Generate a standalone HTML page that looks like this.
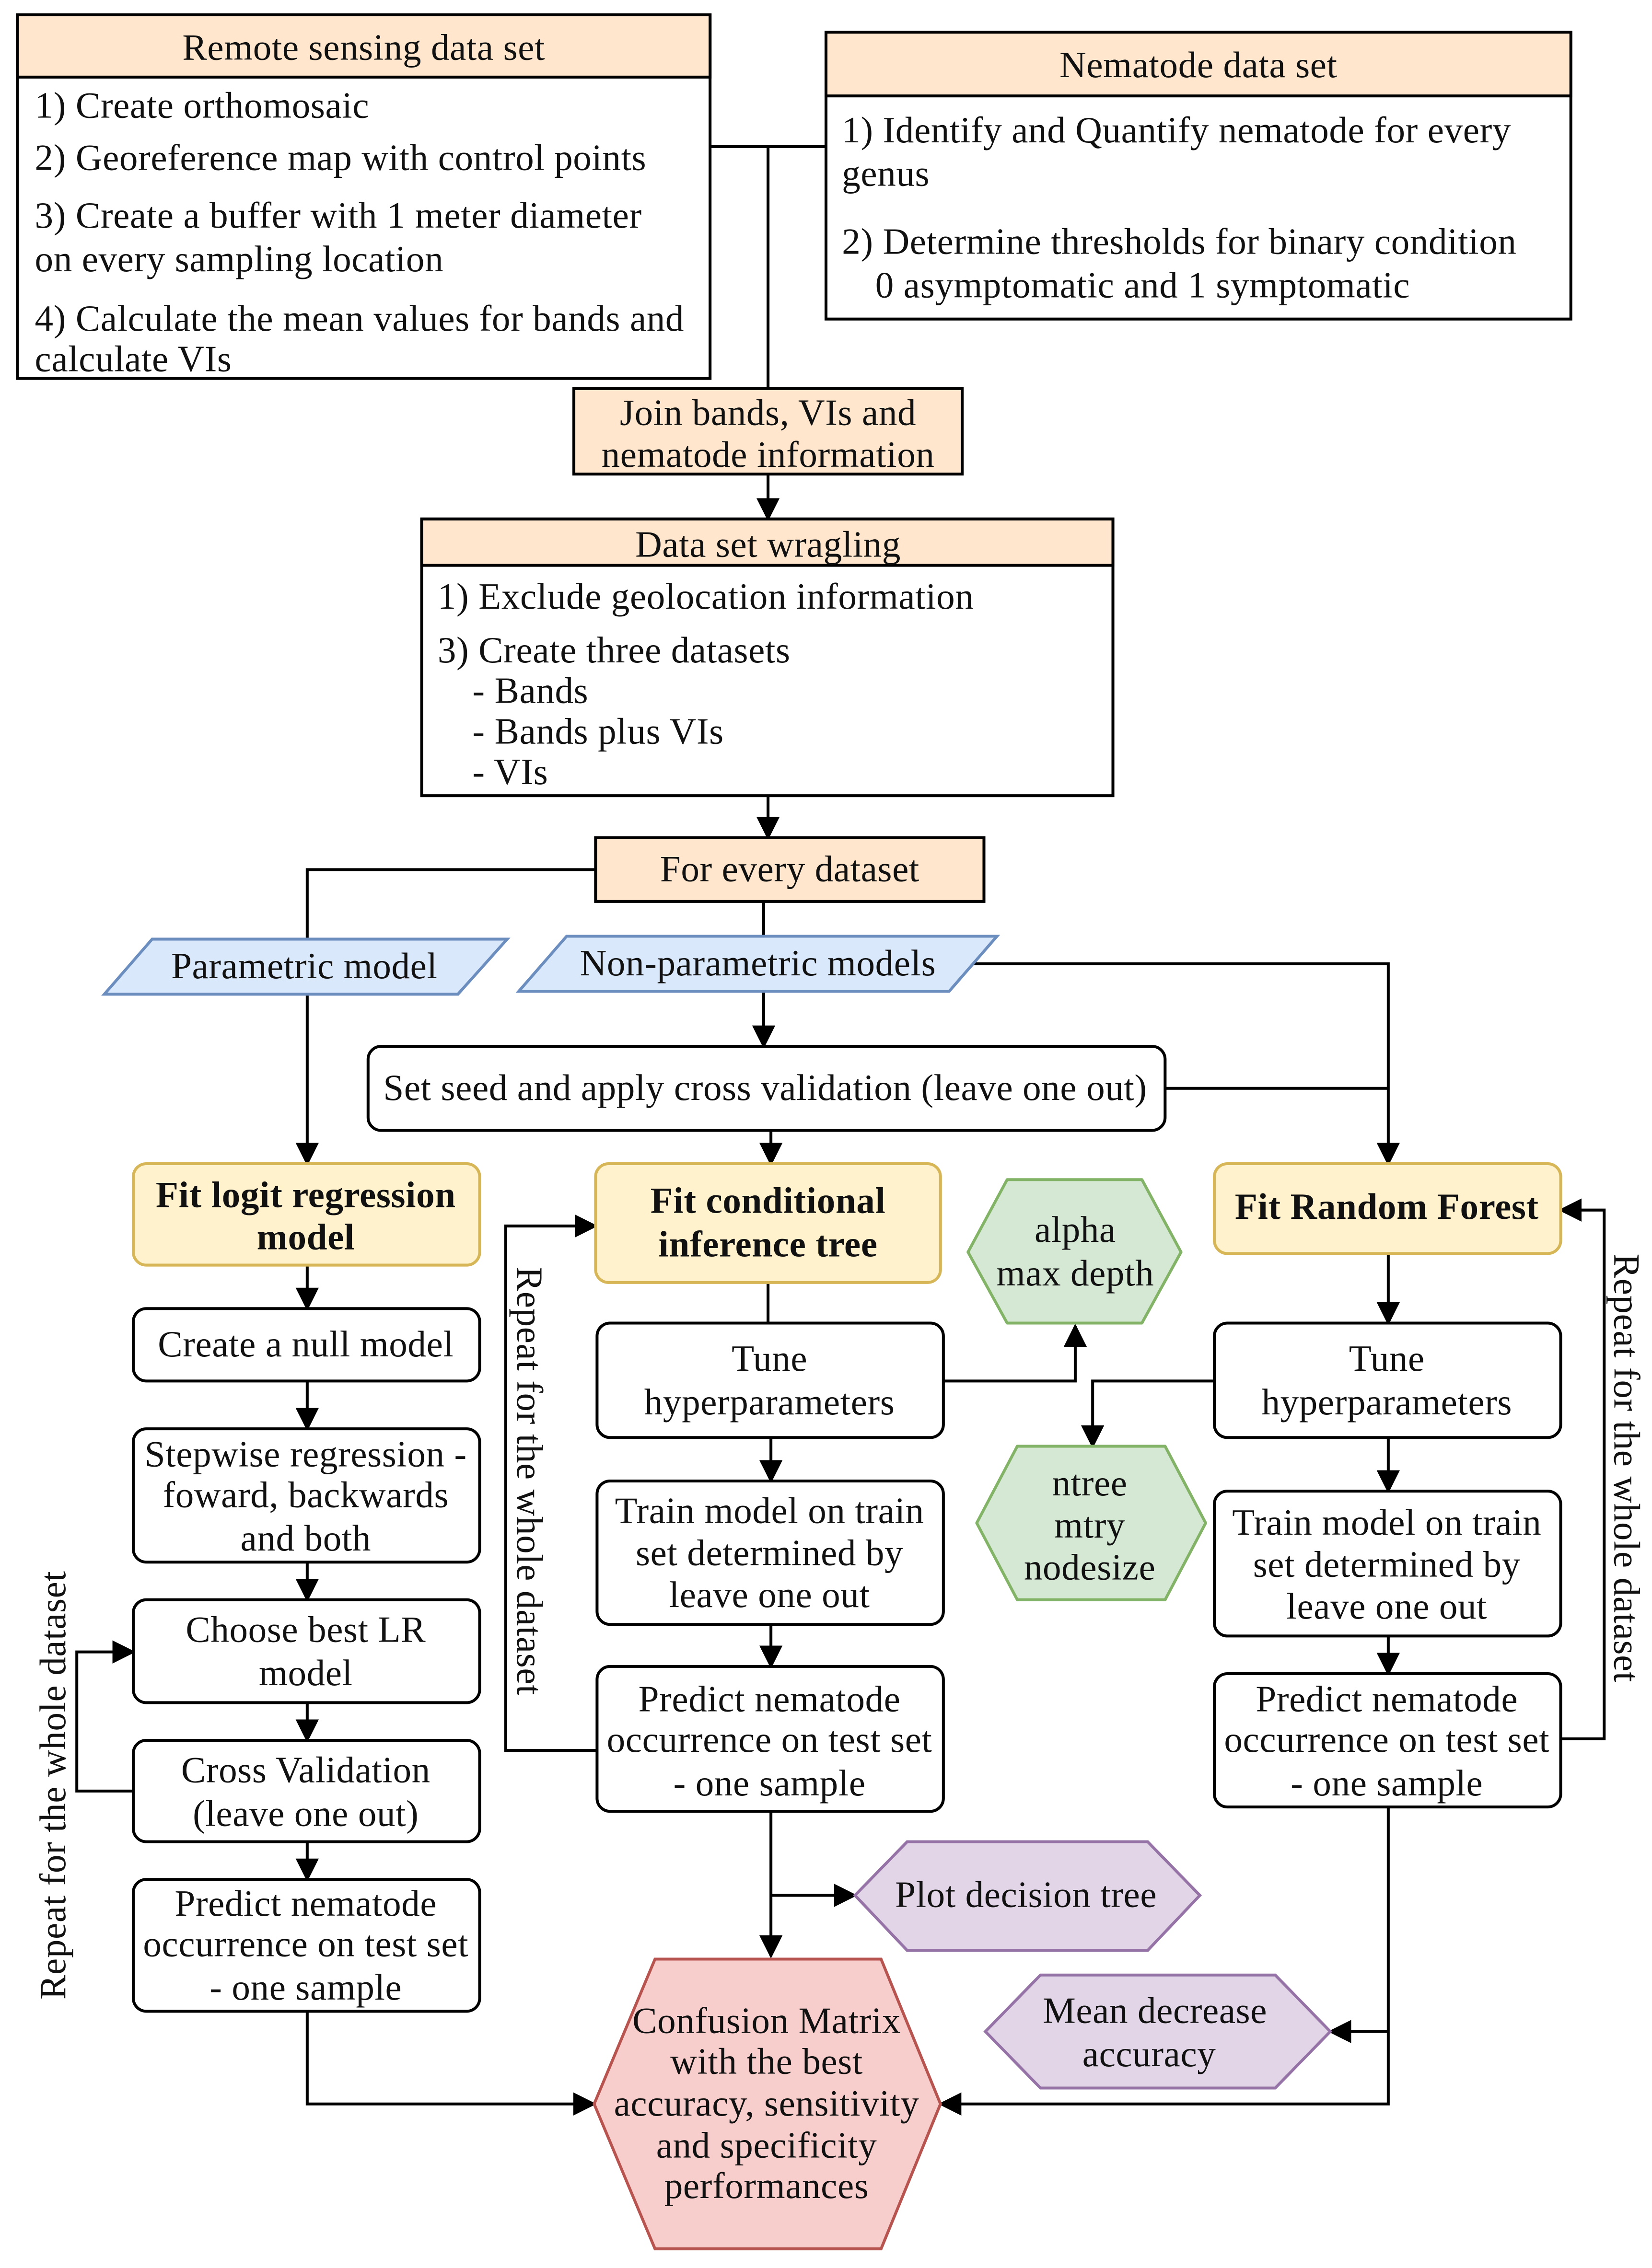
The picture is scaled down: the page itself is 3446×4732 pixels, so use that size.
<!DOCTYPE html>
<html><head><meta charset="utf-8"><style>
html,body{margin:0;padding:0;background:#fff}
svg{display:block}
text{font-family:"Liberation Serif",serif;font-size:25.5px;letter-spacing:0.2px;fill:#111}
.c{text-anchor:middle}
.b{font-weight:bold}
</style></head><body>
<svg width="3446" height="4732" viewBox="0 0 1140 1565" xmlns="http://www.w3.org/2000/svg">
<defs>
<marker id="m" viewBox="0 0 10 10" refX="9" refY="5" markerWidth="16" markerHeight="16" markerUnits="userSpaceOnUse" orient="auto"><path d="M0,0 L10,5 L0,10 z" fill="#000"/></marker></defs>
<g stroke="#000" stroke-width="2" fill="none">
<path d="M490,101 H570 M530,101 V268"/>
<path d="M530,327 V358" marker-end="url(#m)"/>
<path d="M530,549 V578" marker-end="url(#m)"/>
<path d="M411,600 H212 V650"/>
<path d="M527,622 V648"/>
<path d="M212,686 V803" marker-end="url(#m)"/>
<path d="M670,665 H958 V803" marker-end="url(#m)"/>
<path d="M527,684 V722" marker-end="url(#m)"/>
<path d="M804,751 H958"/>
<path d="M532,780 V803" marker-end="url(#m)"/>
<path d="M212,873 V903" marker-end="url(#m)"/>
<path d="M212,953 V986" marker-end="url(#m)"/>
<path d="M212,1078 V1104" marker-end="url(#m)"/>
<path d="M212,1175 V1201" marker-end="url(#m)"/>
<path d="M212,1271 V1297" marker-end="url(#m)"/>
<path d="M92,1236 H53 V1140 H92" marker-end="url(#m)"/>
<path d="M212,1388 V1452 H410" marker-end="url(#m)"/>
<path d="M530,885 V913"/>
<path d="M651,953 H742 V915" marker-end="url(#m)"/>
<path d="M532,992 V1022" marker-end="url(#m)"/>
<path d="M532,1121 V1150" marker-end="url(#m)"/>
<path d="M412,1208 H349 V846 H411" marker-end="url(#m)"/>
<path d="M532,1250 V1350" marker-end="url(#m)"/>
<path d="M532,1308 H590" marker-end="url(#m)"/>
<path d="M958,865 V913" marker-end="url(#m)"/>
<path d="M838,953 H754 V998" marker-end="url(#m)"/>
<path d="M958,992 V1029" marker-end="url(#m)"/>
<path d="M958,1129 V1155" marker-end="url(#m)"/>
<path d="M1077,1200 H1107 V835 H1077" marker-end="url(#m)"/>
<path d="M958,1247 V1452 H649" marker-end="url(#m)"/>
<path d="M958,1402 H918" marker-end="url(#m)"/>
</g>
<g stroke="#000" stroke-width="2">
<rect x="12" y="10" width="478" height="251" fill="#fff"/>
<rect x="12" y="10" width="478" height="43" fill="#ffe6cc"/>
<rect x="570" y="22" width="514" height="198" fill="#fff"/>
<rect x="570" y="22" width="514" height="44" fill="#ffe6cc"/>
<rect x="396" y="268" width="268" height="59" fill="#ffe6cc"/>
<rect x="291" y="358" width="477" height="191" fill="#fff"/>
<rect x="291" y="358" width="477" height="32" fill="#ffe6cc"/>
<rect x="411" y="578" width="268" height="44" fill="#ffe6cc"/>
<rect x="254" y="722" width="550" height="58" rx="9" fill="#fff"/>
<rect x="92" y="903" width="239" height="50" rx="9" fill="#fff"/>
<rect x="92" y="986" width="239" height="92" rx="9" fill="#fff"/>
<rect x="92" y="1104" width="239" height="71" rx="9" fill="#fff"/>
<rect x="92" y="1201" width="239" height="70" rx="9" fill="#fff"/>
<rect x="92" y="1297" width="239" height="91" rx="9" fill="#fff"/>
<rect x="412" y="913" width="239" height="79" rx="9" fill="#fff"/>
<rect x="412" y="1022" width="239" height="99" rx="9" fill="#fff"/>
<rect x="412" y="1150" width="239" height="100" rx="9" fill="#fff"/>
<rect x="838" y="913" width="239" height="79" rx="9" fill="#fff"/>
<rect x="838" y="1029" width="239" height="100" rx="9" fill="#fff"/>
<rect x="838" y="1155" width="239" height="92" rx="9" fill="#fff"/>
</g>
<g stroke="#d6b656" stroke-width="2" fill="#fff2cc">
<rect x="92" y="803" width="239" height="70" rx="9"/>
<rect x="411" y="803" width="238" height="82" rx="9"/>
<rect x="838" y="803" width="239" height="62" rx="9"/>
</g>
<g stroke="#6c8ebf" stroke-width="2" fill="#dae8fc">
<path d="M105,648 H350 L316,686 H72 Z"/>
<path d="M391,646 H688 L655,684 H358 Z"/>
</g>
<g stroke="#82b366" stroke-width="2" fill="#d5e8d4" stroke-linejoin="round">
<path d="M695,814 H788 L815,864 L788,913 H695 L668,864 Z"/>
<path d="M702,998 H804 L832,1051 L804,1104 H702 L674,1051 Z"/>
</g>
<g stroke="#9673a6" stroke-width="2" fill="#e1d5e7">
<path d="M590,1308 L626,1271 H792 L828,1308 L792,1346 H626 Z"/>
<path d="M680,1402 L718,1363 H880 L918,1402 L880,1441 H718 Z"/>
</g>
<path d="M410,1452 L452,1352 H608 L649,1452 L608,1552 H452 Z" fill="#f8cecc" stroke="#b85450" stroke-width="2"/>
<text class="c" x="251" y="41">Remote sensing data set</text>
<text x="24" y="81">1) Create orthomosaic</text>
<text x="24" y="117">2) Georeference map with control points</text>
<text x="24" y="157">3) Create a buffer with 1 meter  diameter</text>
<text x="24" y="187">on every sampling location</text>
<text x="24" y="228">4) Calculate the mean values for bands and</text>
<text x="24" y="256">calculate VIs</text>
<text class="c" x="827" y="53">Nematode data set</text>
<text x="581" y="98">1) Identify and Quantify nematode for every</text>
<text x="581" y="128">genus</text>
<text x="581" y="175">2) Determine thresholds for binary condition</text>
<text x="604" y="205">0 asymptomatic and 1 symptomatic</text>
<text class="c" x="530" y="293">Join bands, VIs and</text>
<text class="c" x="530" y="322">nematode information</text>
<text class="c" x="530" y="384">Data set wragling</text>
<text x="302" y="420">1) Exclude geolocation information</text>
<text x="302" y="457">3) Create three datasets</text>
<text x="326" y="485">- Bands</text>
<text x="326" y="513">- Bands plus VIs</text>
<text x="326" y="541">- VIs</text>
<text class="c" x="545" y="608">For every dataset</text>
<text class="c" x="210" y="675">Parametric model</text>
<text class="c" x="523" y="673">Non-parametric models</text>
<text class="c" x="528" y="759">Set seed and apply cross validation (leave one out)</text>
<text class="c b" x="211" y="833">Fit logit regression</text>
<text class="c b" x="211" y="862">model</text>
<text class="c b" x="530" y="837">Fit conditional</text>
<text class="c b" x="530" y="867">inference tree</text>
<text class="c b" x="957" y="841">Fit Random Forest</text>
<text class="c" x="211" y="936">Create a null model</text>
<text class="c" x="211" y="1012">Stepwise regression -</text>
<text class="c" x="211" y="1040">foward, backwards</text>
<text class="c" x="211" y="1070">and both</text>
<text class="c" x="211" y="1133">Choose best LR</text>
<text class="c" x="211" y="1163">model</text>
<text class="c" x="211" y="1230">Cross Validation</text>
<text class="c" x="211" y="1260">(leave one out)</text>
<text class="c" x="211" y="1322">Predict nematode</text>
<text class="c" x="211" y="1350">occurrence on test set</text>
<text class="c" x="211" y="1380">- one sample</text>
<text class="c" x="531" y="946">Tune</text>
<text class="c" x="531" y="976">hyperparameters</text>
<text class="c" x="531" y="1051">Train model on train</text>
<text class="c" x="531" y="1080">set determined by</text>
<text class="c" x="531" y="1109">leave one out</text>
<text class="c" x="531" y="1181">Predict nematode</text>
<text class="c" x="531" y="1209">occurrence on test set</text>
<text class="c" x="531" y="1239">- one sample</text>
<text class="c" x="957" y="946">Tune</text>
<text class="c" x="957" y="976">hyperparameters</text>
<text class="c" x="957" y="1059">Train model on train</text>
<text class="c" x="957" y="1088">set determined by</text>
<text class="c" x="957" y="1117">leave one out</text>
<text class="c" x="957" y="1181">Predict nematode</text>
<text class="c" x="957" y="1209">occurrence on test set</text>
<text class="c" x="957" y="1239">- one sample</text>
<text class="c" x="742" y="857">alpha</text>
<text class="c" x="742" y="887">max depth</text>
<text class="c" x="752" y="1032">ntree</text>
<text class="c" x="752" y="1061">mtry</text>
<text class="c" x="752" y="1090">nodesize</text>
<text class="c" x="708" y="1316">Plot decision tree</text>
<text class="c" x="797" y="1396">Mean decrease</text>
<text class="c" x="793" y="1426">accuracy</text>
<text class="c" x="529" y="1403">Confusion Matrix</text>
<text class="c" x="529" y="1431">with the best</text>
<text class="c" x="529" y="1460">accuracy, sensitivity</text>
<text class="c" x="529" y="1489">and specificity</text>
<text class="c" x="529" y="1517">performances</text>
<text class="c" transform="translate(45,1232) rotate(-90)">Repeat for the whole dataset</text>
<rect x="352" y="870" width="28" height="305" fill="#fff"/>
<text class="c" transform="translate(357,1022) rotate(90)">Repeat for the whole dataset</text>
<text class="c" transform="translate(1114,1013) rotate(90)">Repeat for the whole dataset</text>
</svg>
</body></html>
